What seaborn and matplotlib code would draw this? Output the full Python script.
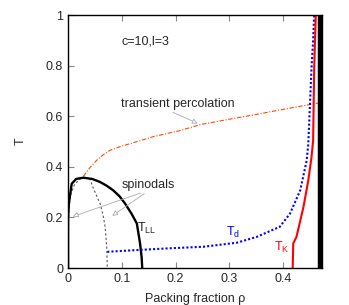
import matplotlib
matplotlib.use("Agg")
import matplotlib.pyplot as plt
import seaborn as sns
import pandas as pd

sns.set_style("ticks")
plt.rcParams['font.family'] = ['Liberation Sans', 'DejaVu Sans']
plt.rcParams['mathtext.fontset'] = 'custom'
plt.rcParams['mathtext.rm'] = 'Liberation Sans'
plt.rcParams['mathtext.it'] = 'Liberation Sans'

# T_LL binodal
tll_rho = [0.0, 0.0, 0.0015, 0.0068, 0.015, 0.0285, 0.045, 0.0595, 0.072, 0.084, 0.096, 0.106, 0.118, 0.128, 0.134, 0.137, 0.138]
tll_T = [0.0, 0.20, 0.255, 0.333, 0.352, 0.357, 0.352, 0.34, 0.325, 0.307, 0.283, 0.255, 0.215, 0.176, 0.097, 0.04, 0.0]
# spinodals
spR_rho = [0.04, 0.048, 0.0595, 0.065, 0.069, 0.072, 0.073]
spR_T = [0.355, 0.31, 0.255, 0.21, 0.163, 0.08, 0.0]
spL_rho = [0.024, 0.012, 0.005, 0.002, 0.001, 0.0]
spL_T = [0.355, 0.33, 0.29, 0.24, 0.18, 0.0]
# transient percolation
perc_rho = [0.0285, 0.04, 0.053, 0.065, 0.078, 0.097, 0.121, 0.16, 0.208, 0.2465, 0.3, 0.35, 0.4, 0.45, 0.4725]
perc_T = [0.362, 0.395, 0.425, 0.447, 0.465, 0.48, 0.495, 0.52, 0.543, 0.567, 0.588, 0.607, 0.627, 0.646, 0.655]
# T_d
td_rho = [0.073, 0.12, 0.19, 0.252, 0.314, 0.351, 0.394, 0.413, 0.432, 0.444, 0.447, 0.450, 0.453, 0.456, 0.458]
td_T = [0.064, 0.07, 0.078, 0.084, 0.10, 0.123, 0.163, 0.215, 0.307, 0.425, 0.49, 0.64, 0.79, 0.90, 1.0]
# T_K
tk_rho = [0.418, 0.419, 0.425, 0.438, 0.447, 0.453, 0.456, 0.458, 0.4595, 0.461]
tk_T = [0.0, 0.097, 0.123, 0.241, 0.346, 0.438, 0.504, 0.79, 0.90, 1.0]

x_ticks = [0, 0.1, 0.2, 0.3, 0.4]
y_ticks = [0, 0.2, 0.4, 0.6, 0.8, 1]

fig = plt.figure(figsize=(3.49, 3.05), dpi=100)
ax = fig.add_axes([0.195, 0.1213, 0.7276, 0.8295])

def curve(x, y, **kw):
    df = pd.DataFrame({"x": x, "y": y})
    sns.lineplot(data=df, x="x", y="y", ax=ax, sort=False, estimator=None, legend=False, **kw)

curve(perc_rho, perc_T, color="#ff4a00", lw=0.8, linestyle=(0, (4, 1.5, 1, 1.5)))
curve(spR_rho, spR_T, color="#555555", lw=0.8, linestyle=(0, (2, 2)))
curve(spL_rho, spL_T, color="#555555", lw=0.8, linestyle=(0, (2, 2)))
curve(tll_rho, tll_T, color="black", lw=1.7)
curve(td_rho, td_T, color="#0000ff", lw=1.5, linestyle=(0, (1, 1)))
curve(tk_rho, tk_T, color="#ff0000", lw=1.5)
ax.axvline(0.4685, color="black", lw=3.2)

fs = 9
ax.text(0.0986, 0.895, "c=10,l=3", fontsize=fs, va="center")
ax.text(0.0986, 0.648, "transient percolation", fontsize=fs, va="center")
ax.text(0.1, 0.327, "spinodals", fontsize=fs, va="center")
ax.text(0.128, 0.157, r"T$_{\rm LL}$", fontsize=fs, va="center")
ax.text(0.294, 0.14, r"T$_{\rm d}$", fontsize=fs, va="center", color="#0000ff")
ax.text(0.384, 0.08, r"T$_{\rm K}$", fontsize=fs, va="center", color="#ff0000")

ap = dict(arrowstyle="-|>", color="#aaaaaa", lw=0.6, fc="white", mutation_scale=8)
ax.annotate("", xy=(0.246, 0.567), xytext=(0.19, 0.62), arrowprops=ap)
ax.annotate("", xy=(0.004, 0.2), xytext=(0.14, 0.3), arrowprops=ap)
ax.annotate("", xy=(0.078, 0.2), xytext=(0.146, 0.3), arrowprops=ap)

ax.set_xlim(0, 0.4725)
ax.set_ylim(0, 1)
ax.set_xticks(x_ticks)
ax.set_xticklabels(["0", "0.1", "0.2", "0.3", "0.4"])
ax.set_yticks(y_ticks)
ax.set_yticklabels(["0", "0.2", "0.4", "0.6", "0.8", "1"])
ax.tick_params(direction="in", top=True, right=False, labelsize=fs, length=4, width=0.8, color="#888888")
ax.set_xlabel("Packing fraction ρ", fontsize=fs, labelpad=6)
ax.set_ylabel("T", fontsize=fs, labelpad=14)
for s in ax.spines.values():
    s.set_linewidth(1.0)
    s.set_color("black")

fig.savefig("out.png", dpi=100)
